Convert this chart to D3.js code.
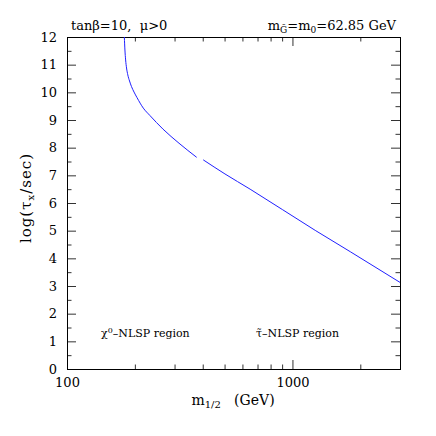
<!DOCTYPE html>
<html><head><meta charset="utf-8">
<script src="https://cdn.jsdelivr.net/npm/d3@7"></script>
<style>body{margin:0;background:#fff}svg{display:block}text{white-space:pre}</style>
</head><body>
<svg id="c" width="436" height="436"></svg>
<script>
// neutralino-NLSP branch
const chiMass = [179.6, 180.7, 182.0, 183.7, 186.1, 189.4, 193.2, 198.3, 204.4, 218.0, 233.4, 266.6, 314.0, 376.1];
const chiLog  = [12.0, 11.53, 11.17, 10.88, 10.63, 10.41, 10.21, 10.01, 9.81, 9.43, 9.16, 8.67, 8.16, 7.65];
// stau-NLSP branch
const stauMass = [402, 502, 649, 1262, 1805, 3000];
const stauLog  = [7.56, 7.05, 6.50, 5.01, 4.24, 3.13];
// ticks
const xMajorTicks = [100, 1000];
const xMinorTicks = [200, 300, 400, 500, 600, 700, 800, 900, 2000];
const yMajorTicks = [0,1,2,3,4,5,6,7,8,9,10,11,12];
const yMinorTicks = [0.5,1.5,2.5,3.5,4.5,5.5,6.5,7.5,8.5,9.5,10.5,11.5];

const M = {left: 67, right: 400, top: 37, bottom: 369};
const FONT = "DejaVu Serif";
const svg = d3.select("#c");
const x = d3.scaleLog().domain([100, 3000]).range([M.left, M.right]);
const y = d3.scaleLinear().domain([0, 12]).range([M.bottom, M.top]);

function styleAxis(g, labels) {
  g.select(".domain").remove();
  g.selectAll("line").attr("stroke", "#333").attr("stroke-width", 1);
  g.selectAll("text").attr("font-family", FONT).attr("font-size", 13).attr("fill", "#000");
  if (!labels) g.selectAll("text").remove();
}
const MAJ = 9, MIN = 4.5;
// bottom
svg.append("g").attr("transform", `translate(0,${M.bottom})`)
  .call(d3.axisBottom(x).tickValues(xMajorTicks).tickFormat(d3.format("d")).tickSizeInner(-MAJ).tickSizeOuter(0).tickPadding(9))
  .call(g => styleAxis(g, true));
svg.append("g").attr("transform", `translate(0,${M.bottom})`)
  .call(d3.axisBottom(x).tickValues(xMinorTicks).tickFormat("").tickSizeInner(-MIN).tickSizeOuter(0))
  .call(g => styleAxis(g, false));
// top
svg.append("g").attr("transform", `translate(0,${M.top})`)
  .call(d3.axisTop(x).tickValues(xMajorTicks).tickSizeInner(-MAJ).tickSizeOuter(0))
  .call(g => styleAxis(g, false));
svg.append("g").attr("transform", `translate(0,${M.top})`)
  .call(d3.axisTop(x).tickValues(xMinorTicks).tickSizeInner(-MIN).tickSizeOuter(0))
  .call(g => styleAxis(g, false));
// left
svg.append("g").attr("transform", `translate(${M.left},0)`)
  .call(d3.axisLeft(y).tickValues(yMajorTicks).tickFormat(d3.format("d")).tickSizeInner(-MAJ).tickSizeOuter(0).tickPadding(10))
  .call(g => styleAxis(g, true));
svg.append("g").attr("transform", `translate(${M.left},0)`)
  .call(d3.axisLeft(y).tickValues(yMinorTicks).tickSizeInner(-MIN).tickSizeOuter(0))
  .call(g => styleAxis(g, false));
// right
svg.append("g").attr("transform", `translate(${M.right},0)`)
  .call(d3.axisRight(y).tickValues(yMajorTicks).tickSizeInner(-MAJ).tickSizeOuter(0))
  .call(g => styleAxis(g, false));
svg.append("g").attr("transform", `translate(${M.right},0)`)
  .call(d3.axisRight(y).tickValues(yMinorTicks).tickSizeInner(-MIN).tickSizeOuter(0))
  .call(g => styleAxis(g, false));

// frame
svg.append("rect").attr("x", M.left + 0.5).attr("y", M.top + 0.5)
  .attr("width", M.right - M.left).attr("height", M.bottom - M.top)
  .attr("fill", "none").attr("stroke", "#000").attr("stroke-width", 1);

// clip
svg.append("clipPath").attr("id", "clip").append("rect")
  .attr("x", M.left).attr("y", M.top).attr("width", M.right - M.left + 1).attr("height", M.bottom - M.top);

const line = d3.line().x(d => x(d[0])).y(d => y(d[1])).curve(d3.curveMonotoneX);
const plot = svg.append("g").attr("clip-path", "url(#clip)");
plot.append("path").datum(chiMass.map((m, i) => [m, chiLog[i]]))
  .attr("d", line).attr("fill", "none").attr("stroke", "#2020ff").attr("stroke-width", 1);
plot.append("path").datum(stauMass.map((m, i) => [m, stauLog[i]]))
  .attr("d", line).attr("fill", "none").attr("stroke", "#2020ff").attr("stroke-width", 1);

// texts
const T = (xx, yy, size, anchor) => svg.append("text").attr("x", xx).attr("y", yy)
  .attr("font-family", FONT).attr("font-size", size).attr("text-anchor", anchor || "start").attr("fill", "#000");

T(71, 30, 13).text("tanβ=10,  μ>0");
const t2 = T(396, 30, 13, "end");
t2.append("tspan").text("m");
t2.append("tspan").attr("font-size", 9).attr("dy", 3).text("G̃");
t2.append("tspan").attr("dy", -3).text("=m");
t2.append("tspan").attr("font-size", 9).attr("dy", 3).text("0");
t2.append("tspan").attr("dy", -3).text("=62.85 GeV");

const xt = T(233, 405, 14, "middle");
xt.append("tspan").text("m");
xt.append("tspan").attr("font-size", 10).attr("dy", 3).text("1/2");
xt.append("tspan").attr("dy", -3).text("   (GeV)");

const yt = svg.append("text").attr("transform", "translate(31,198) rotate(-90)")
  .attr("font-family", FONT).attr("font-size", 15).attr("letter-spacing", 1).attr("text-anchor", "middle");
yt.append("tspan").text("log(τ");
yt.append("tspan").attr("font-size", 10).attr("dy", 3).text("x");
yt.append("tspan").attr("dy", -3).text("/sec)");

const r1 = T(101, 337, 11);
r1.append("tspan").text("χ");
r1.append("tspan").attr("font-size", 8).attr("dy", -4).text("0");
r1.append("tspan").attr("dy", 4).text("–NLSP region");
T(256, 337, 11).text("τ̃–NLSP region");
</script>
</body></html>
